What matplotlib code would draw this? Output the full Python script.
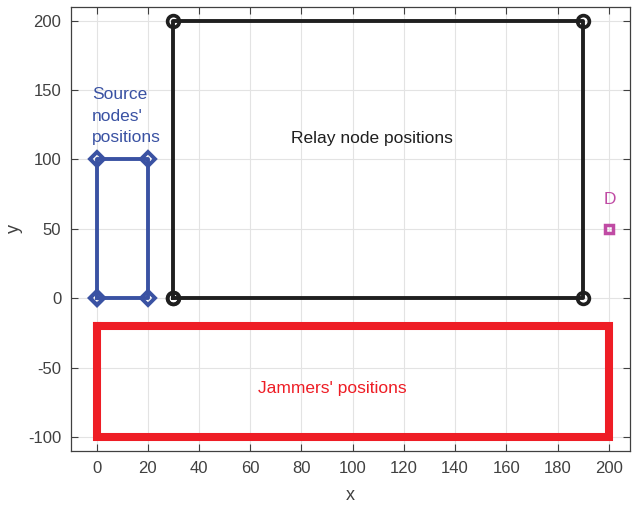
import matplotlib
matplotlib.use("Agg")
import matplotlib.pyplot as plt

plt.rcParams['font.family'] = ['Liberation Sans', 'DejaVu Sans']
plt.rcParams['axes.unicode_minus'] = False

# Region corners (closed loops)
relay_x = [30, 190, 190, 30, 30]
relay_y = [0, 0, 200, 200, 0]
source_x = [0, 20, 20, 0, 0]
source_y = [0, 0, 100, 100, 0]
jammer_x = [0, 200, 200, 0, 0]
jammer_y = [-20, -20, -100, -100, -20]
dest_x = [200]
dest_y = [50]

x_ticks = list(range(0, 201, 20))
y_ticks = list(range(-100, 201, 50))

black = '#1f1f1f'
blue = '#3a52a3'
red = '#ee1d25'
magenta = '#c04ba4'
axis_gray = '#404040'

fig = plt.figure(figsize=(6.32, 5.05), dpi=100)
ax = fig.add_axes([71 / 632, 54 / 505, (630 - 71) / 632, (451 - 6.7) / 505])

ax.plot(jammer_x, jammer_y, color=red, lw=5.8, solid_joinstyle='miter', zorder=3)
ax.plot(relay_x, relay_y, color=black, lw=2.8, marker='o', ms=8.5, mfc='none',
        mew=2.6, mec=black, zorder=4)
ax.plot(source_x, source_y, color=blue, lw=2.8, marker='D', ms=7, mfc='none',
        mew=2.8, mec=blue, zorder=4)
ax.plot(dest_x, dest_y, linestyle='none', marker='s', ms=6, mfc='none',
        mew=2.5, mec=magenta, zorder=4)

ax.text(-1.8, 131, "Source\nnodes'\npositions", color=blue, fontsize=12.5,
        ha='left', va='center', linespacing=1.55)
ax.text(107.5, 115, "Relay node positions", color=black, fontsize=12.5,
        ha='center', va='center')
ax.text(92, -65, "Jammers' positions", color=red, fontsize=12.5,
        ha='center', va='center')
ax.text(200.5, 71, "D", color=magenta, fontsize=12.5, ha='center', va='center')

ax.set_xlim(-10, 208.3)
ax.set_ylim(-110, 210)
ax.set_xticks(x_ticks)
ax.set_yticks(y_ticks)
ax.grid(True, color='#e3e3e3', lw=0.8)
ax.set_axisbelow(True)
ax.tick_params(direction='in', top=True, right=True, length=5, width=0.8,
               colors=axis_gray, labelsize=12, labelcolor='#404040', pad=7)
for s in ax.spines.values():
    s.set_color(axis_gray)
    s.set_linewidth(0.9)
ax.set_xlabel('x', fontsize=13, color='#404040', labelpad=8)
ax.set_ylabel('y', fontsize=13, color='#404040', labelpad=4)

fig.savefig('out.png', dpi=100)
